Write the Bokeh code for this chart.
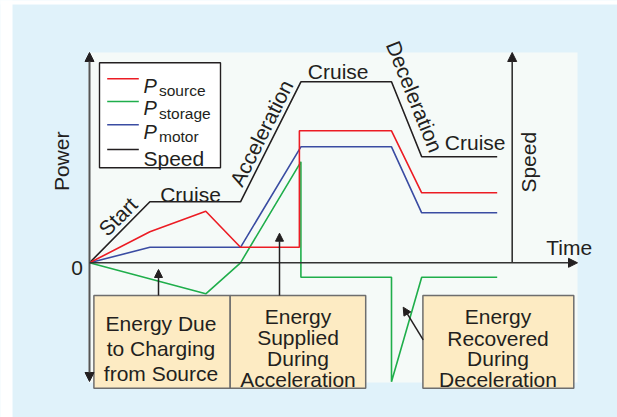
import math
from bokeh.plotting import figure
from bokeh.models import Range1d, Arrow, NormalHead
from bokeh.core.properties import value
from bokeh.embed import file_html
from bokeh.resources import INLINE

# ---------------- data (time units, power units) ----------------
t_speed = [0, 2, 5, 7, 10, 11, 13.5]
speed = [0, 6.1, 6.1, 18.1, 18.1, 10.6, 10.6]

t_source = [0, 2, 3.85, 5, 6.95, 6.95, 10, 11, 13.5]
p_source = [0, 3.1, 5.15, 1.55, 1.55, 13.2, 13.2, 7.0, 7.0]

t_motor = [0, 2, 5, 7, 10, 11, 13.5]
p_motor = [0, 1.55, 1.55, 11.6, 11.6, 5.0, 5.0]

t_storage = [0, 3.85, 5, 7, 7, 10, 10, 11, 13.5]
p_storage = [0, -3.1, 0, 10.1, -1.45, -1.45, -11.9, -1.45, -1.45]

phase_labels = ["Start", "Cruise", "Acceleration", "Cruise", "Deceleration", "Cruise"]
legend_main = ["P", "P", "P"]
legend_sub = ["source", "storage", "motor"]
legend_speed = "Speed"
box_texts = [
    ["Energy Due", "to Charging", "from Source"],
    ["Energy", "Supplied", "During", "Acceleration"],
    ["Energy", "Recovered", "During", "Deceleration"],
]

# ---------------- layout helpers (page pixel -> data) ----------------
def X(px):
    return (px - 89) / 30.2

def Y(py):
    return (262.3 - py) / 10.0

FONT = value("Liberation Sans")
TXT = "#231f20"
RED = "#ec1c24"
GREEN = "#1fae4b"
BLUE = "#3a4ca2"

W, H = 617, 417
p = figure(width=W, height=H, output_backend="svg", toolbar_location=None,
           x_axis_type=None, y_axis_type=None, min_border=0,
           x_range=Range1d(X(0), X(W)), y_range=Range1d(Y(H), Y(0)))
p.extra_y_ranges = {"speed": Range1d(Y(H), Y(0))}
p.grid.visible = False
p.outline_line_color = None
p.background_fill_color = "#e0f2fa"
p.border_fill_color = "#e0f2fa"

# white margins and inner plotting area
p.quad(left=[X(-5)], right=[X(12)], top=[Y(-5)], bottom=[Y(425)],
       fill_color="white", line_color=None)
p.quad(left=[X(-5)], right=[X(625)], top=[Y(-5)], bottom=[Y(4)],
       fill_color="white", line_color=None)
p.quad(left=[X(88)], right=[X(577)], top=[Y(52)], bottom=[Y(382)],
       fill_color="#f5faf8", line_color=None)

# ---------------- series ----------------
LW = 1.6
p.line(t_speed, speed, line_color=TXT, line_width=LW, y_range_name="speed")
p.line(t_motor, p_motor, line_color=BLUE, line_width=LW)
p.line(t_storage, p_storage, line_color=GREEN, line_width=LW)
p.line(t_source, p_source, line_color=RED, line_width=LW)

# ---------------- annotation boxes ----------------
box_l = [X(93.4), X(229.7), X(422.4)]
box_r = [X(229.7), X(365.2), X(573.3)]
p.quad(left=box_l, right=box_r, top=[Y(295)] * 3, bottom=[Y(387.7)] * 3,
       fill_color="#fdebc3", line_color="#6e6e6e", line_width=1.5)

bx, by, bt = [], [], []
centers = [160.5, 297.5, 497.5]
baselines = [[322.7, 348.3, 373.3], [316, 337.3, 358.3, 379.3], [316, 337.7, 358.3, 379.3]]
for c, bls, lines in zip(centers, baselines, box_texts):
    for b, s in zip(bls, lines):
        bx.append(X(c)); by.append(Y(b)); bt.append(s)
p.text(x=bx, y=by, text=bt, text_font=FONT, text_font_size="21px",
       text_color=TXT, text_align="center", text_baseline="alphabetic")

# ---------------- axes (arrows) ----------------
def head(sz=9):
    return NormalHead(size=sz, fill_color=TXT, line_color=TXT, line_width=1)

p.add_layout(Arrow(start=head(), end=head(), x_start=X(89), y_start=Y(381),
                   x_end=X(89), y_end=Y(52), line_color="#555555", line_width=2))
p.add_layout(Arrow(end=head(), x_start=0, y_start=0, x_end=X(577), y_end=0,
                   line_color="#333333", line_width=1.6))
p.add_layout(Arrow(end=head(), x_start=X(511.7), y_start=0, x_end=X(511.7), y_end=Y(52),
                   line_color="#333333", line_width=1.6))

# pointer arrows from boxes
for (x0, y0, x1, y1) in [(158, 295, 158, 269), (279, 295, 279, 232.7), (422.7, 339.3, 402.7, 306.7)]:
    p.add_layout(Arrow(end=head(8), x_start=X(x0), y_start=Y(y0), x_end=X(x1), y_end=Y(y1),
                       line_color=TXT, line_width=1.5))

# ---------------- phase labels ----------------
rot = [(117.5, 216, 45), (261, 132.5, 63.4), (414, 96, -68)]
rot_txt = [phase_labels[0], phase_labels[2], phase_labels[4]]
for (cx, cy, ang), s in zip(rot, rot_txt):
    p.text(x=[X(cx)], y=[Y(cy)], text=[s], angle=math.radians(ang), text_font=FONT,
           text_font_size="21px", text_color=TXT, text_align="center", text_baseline="middle")

p.text(x=[X(190), X(337.7), X(474.7)], y=[Y(194.3), Y(70.7), Y(141.7)],
       text=[phase_labels[1], phase_labels[3], phase_labels[5]], text_font=FONT,
       text_font_size="21px", text_color=TXT, text_align="center", text_baseline="alphabetic")

# axis titles
p.text(x=[X(568.7), X(76.5)], y=[Y(246.7), Y(267.7)], text=["Time", "0"], text_font=FONT,
       text_font_size="21px", text_color=TXT, text_align="center", text_baseline="alphabetic")
p.text(x=[X(61), X(528.3)], y=[Y(160.8), Y(161.7)], text=["Power", "Speed"],
       angle=math.pi / 2, text_font=FONT, text_font_size="21px", text_color=TXT,
       text_align="center", text_baseline="middle")

# ---------------- legend ----------------
p.quad(left=[X(99)], right=[X(220)], top=[Y(62.3)], bottom=[Y(167.3)],
       fill_color="white", line_color="#231f20", line_width=1.4)
ly = [78.3, 101, 124.3, 149]
for yy, col in zip(ly, [RED, GREEN, BLUE, TXT]):
    p.line([X(106.7), X(138.3)], [Y(yy), Y(yy)], line_color=col, line_width=1.5)
p.text(x=[X(143)] * 3, y=[Y(v + 6.7) for v in ly[:3]], text=legend_main, text_font=FONT,
       text_font_style="italic", text_font_size="20px", text_color=TXT,
       text_align="left", text_baseline="alphabetic")
p.text(x=[X(158.5)] * 3, y=[Y(v + 12) for v in ly[:3]], text=legend_sub, text_font=FONT,
       text_font_size="15.5px", text_color=TXT, text_align="left", text_baseline="alphabetic")
p.text(x=[X(143)], y=[Y(158.3)], text=[legend_speed], text_font=FONT,
       text_font_size="21px", text_color=TXT, text_align="left", text_baseline="alphabetic")

open("out.html", "w").write(file_html(p, INLINE))
